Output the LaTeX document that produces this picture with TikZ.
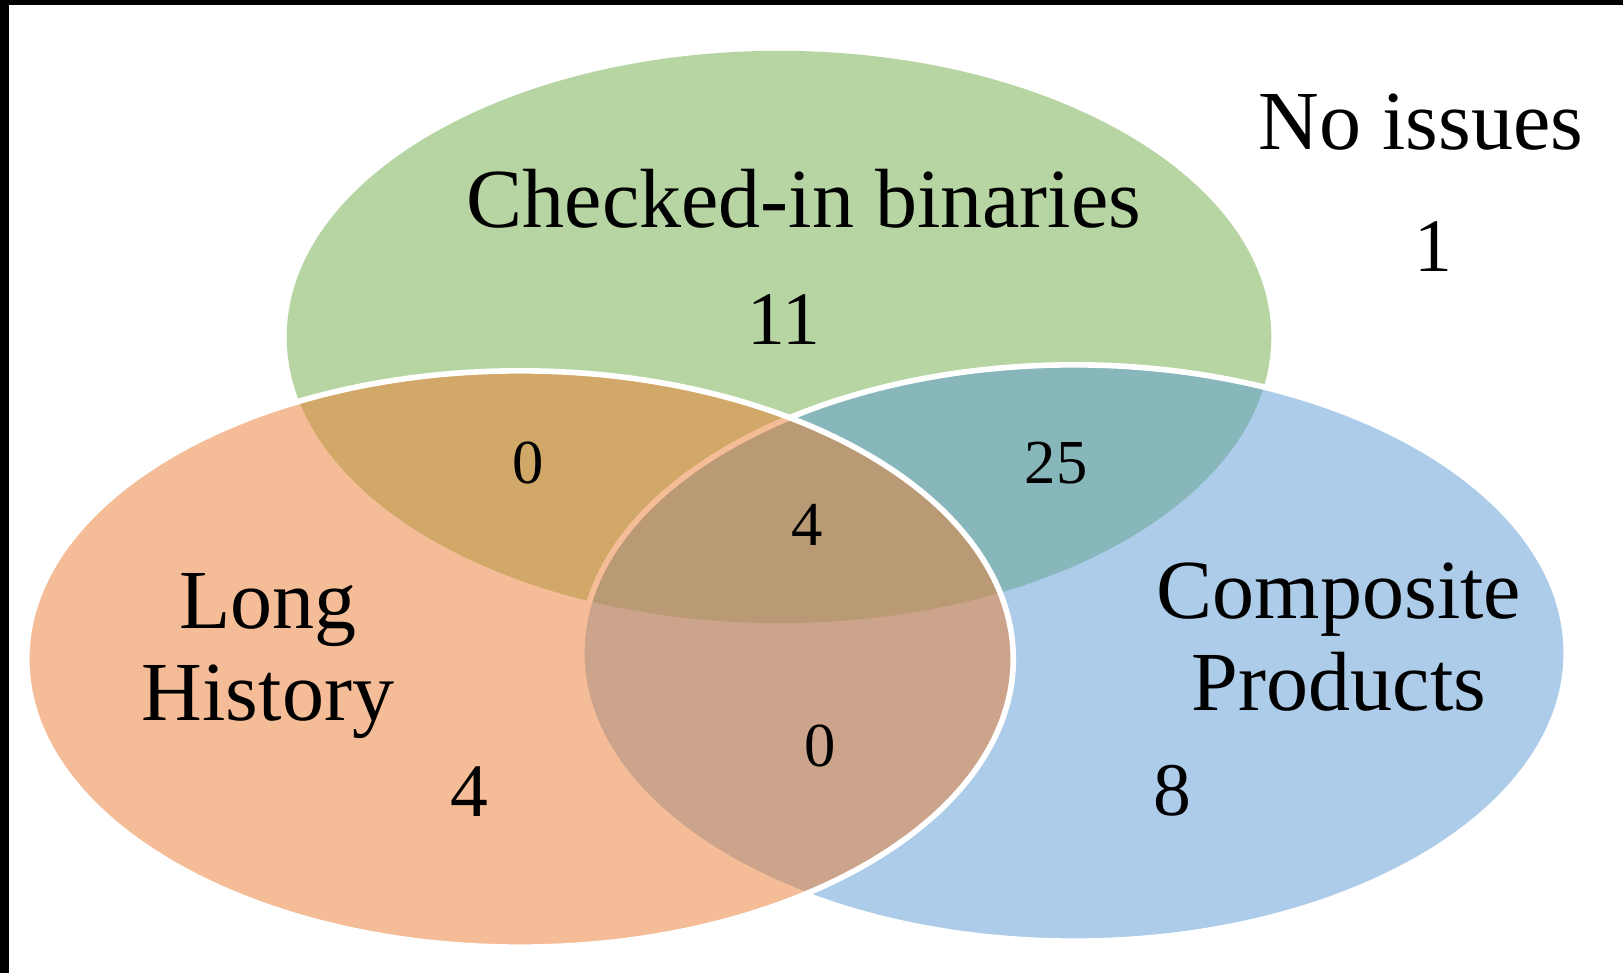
\documentclass[tikz,border=0pt]{standalone}
\usepackage{fontspec}
\setmainfont{Liberation Serif}
\definecolor{chkgreen}{HTML}{70AD47}
\definecolor{historange}{HTML}{ED7D31}
\definecolor{compblue}{HTML}{5B9BD5}

\begin{document}
\begin{tikzpicture}[x=0.01cm, y=-0.01cm,
    setname/.style={font=\fontsize{23.9}{28}\selectfont, anchor=base},
    bignum/.style={font=\fontsize{21.5}{26}\selectfont, anchor=base},
    smallnum/.style={font=\fontsize{17.8}{21}\selectfont, anchor=base},
    setfill/.style={fill opacity=0.5, draw=white, line width=1.6pt}]
    % frame
    \fill[black] (0,0) rectangle (1623,973);
    \fill[white] (9,5) rectangle (1623,973);
    % the three sets
    \fill[chkgreen, fill opacity=0.5] (779,337) ellipse [x radius=4.92cm, y radius=2.86cm];
    \filldraw[setfill, fill=compblue] (1074,653) ellipse [x radius=4.92cm, y radius=2.88cm];
    \filldraw[setfill, fill=historange] (520,659) ellipse [x radius=4.93cm, y radius=2.88cm];
    % labels
    \node[setname] (checked) at (804,228) {Checked-in binaries};
    \node[bignum] (checkedN) at (784,345) {11};
    \node[setname] (noissues) at (1421,150) {No issues};
    \node[bignum] (noissuesN) at (1433,272) {1};
    \node[setname] (long) at (268,628) {Long};
    \node[setname] (history) at (268,721) {History};
    \node[bignum] (historyN) at (469,816) {4};
    \node[setname] (composite) at (1339,618) {Composite};
    \node[setname] (products) at (1339,711) {Products};
    \node[bignum] (compositeN) at (1172,815) {8};
    % overlaps
    \node[smallnum] (chkhist) at (528,484) {0};
    \node[smallnum] (chkcomp) at (1056,484) {25};
    \node[smallnum] (all) at (807,545) {4};
    \node[smallnum] (histcomp) at (820,766) {0};
\end{tikzpicture}
\end{document}
